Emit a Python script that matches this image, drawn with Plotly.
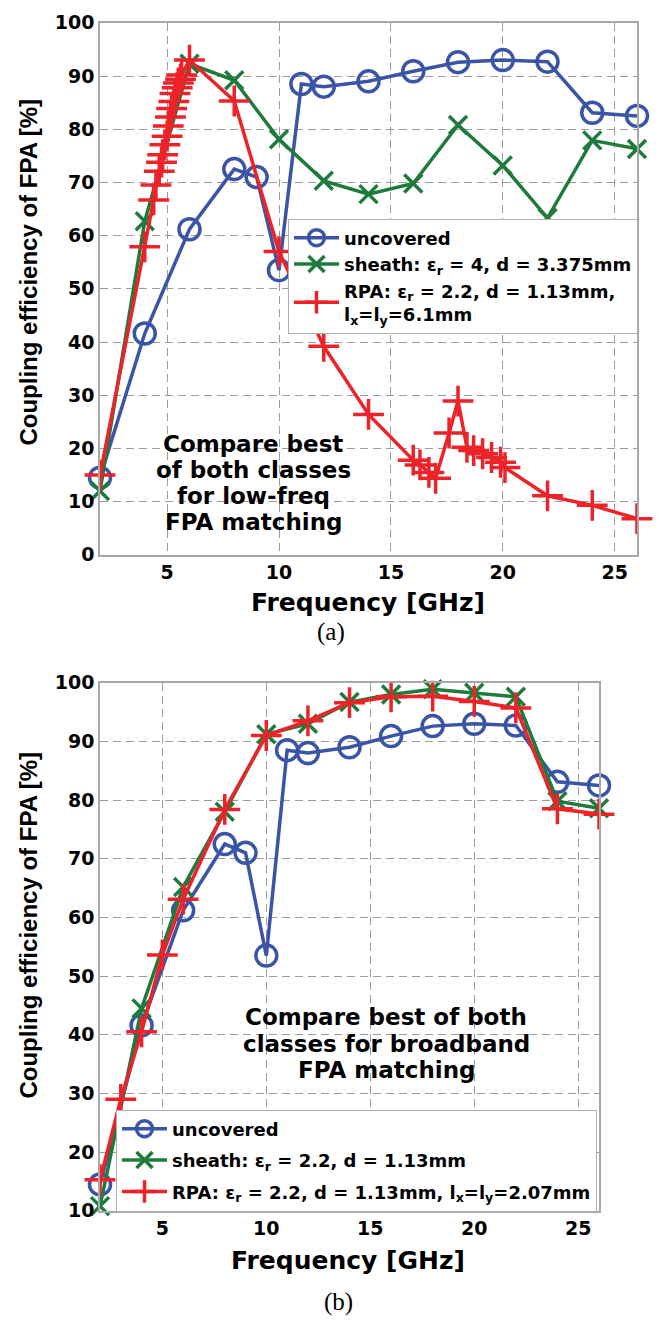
import plotly.graph_objects as go

# ---------------- data ----------------
# uncovered FPA (same in both panels)
freq_unc = [2, 4, 6, 8, 9, 10, 11, 12, 14, 16, 18, 20, 22, 24, 26]
eff_unc = [14.5, 41.6, 61.2, 72.5, 71.0, 53.5, 88.5, 88.0, 89.0, 90.9, 92.6, 93.0, 92.7, 83.1, 82.5]

# panel (a): sheath eps_r=4, d=3.375mm
freq_sheath_a = [2, 4, 6, 8, 10, 12, 14, 16, 18, 20, 22, 24, 26]
eff_sheath_a = [12.0, 62.7, 92.3, 89.2, 78.1, 70.3, 67.8, 69.8, 80.8, 73.2, 63.3, 77.9, 76.3]

# panel (a): RPA eps_r=2.2, d=1.13mm, lx=ly=6.1mm
freq_rpa_a = [2, 4, 4.4, 4.5, 4.65, 4.75, 4.8, 4.9, 5.0, 5.05, 5.15, 5.2, 5.3, 5.35, 5.45, 5.5, 5.6, 5.65,
              6, 8, 10, 12, 14, 16, 16.3, 16.7, 17, 17.6, 18, 18.4, 18.7, 19.1, 19.5, 19.9, 20.1, 22, 24, 26]
eff_rpa_a = [15.0, 57.9, 66.7, 69.5, 72.1, 73.8, 75.2, 77.1, 78.7, 80.6, 82.3, 83.9, 85.2, 86.7, 87.8, 88.7, 89.4, 90.2,
             93.0, 85.3, 57.0, 39.2, 26.4, 17.8, 16.9, 15.5, 14.4, 22.9, 28.9, 20.2, 19.6, 19.0, 18.3, 17.4, 16.4, 11.1, 9.3, 6.8]

# panel (b): sheath eps_r=2.2, d=1.13mm
freq_sheath_b = [2, 4, 6, 8, 10, 12, 14, 16, 18, 20, 22, 24, 26]
eff_sheath_b = [10.8, 44.5, 65.2, 78.0, 91.2, 93.0, 96.7, 98.0, 98.9, 98.3, 97.6, 79.8, 78.6]

# panel (b): RPA eps_r=2.2, d=1.13mm, lx=ly=2.07mm
freq_rpa_b = [2, 3, 4, 5, 6, 8, 10, 12, 14, 16, 18, 20, 22, 24, 26]
eff_rpa_b = [15.3, 29.0, 40.5, 53.6, 63.1, 78.4, 91.0, 93.5, 96.6, 97.6, 97.7, 96.8, 95.7, 78.5, 77.6]

names_a = ["uncovered",
           "sheath: ε<sub>r</sub> = 4, d = 3.375mm",
           "RPA: ε<sub>r</sub> = 2.2, d = 1.13mm,<br>l<sub>x</sub>=l<sub>y</sub>=6.1mm"]
names_b = ["uncovered",
           "sheath: ε<sub>r</sub> = 2.2, d = 1.13mm",
           "RPA: ε<sub>r</sub> = 2.2, d = 1.13mm, l<sub>x</sub>=l<sub>y</sub>=2.07mm"]

x_ticks = [5, 10, 15, 20, 25]
y_ticks_a = list(range(0, 101, 10))
y_ticks_b = list(range(10, 101, 10))

# ---------------- style ----------------
W, H = 659, 1329
BLUE = "#3a55a6"
GREEN = "#1e7b3c"
RED = "#ee2229"


def px(x):
    return x / W


def py(y):
    return 1 - y / H


fig = go.Figure()


def add(x, y, name, color, sym, size, xa, ya, leg, grp):
    fig.add_trace(go.Scatter(
        x=x, y=y, mode="lines+markers", name=name, legendgroup=grp,
        line=dict(color=color, width=3.5),
        marker=dict(symbol=sym, size=size, color=color, line=dict(color=color, width=3.5)),
        xaxis=xa, yaxis=ya, legend=leg, cliponaxis=False))


add(freq_unc, eff_unc, names_a[0], BLUE, "circle-open", 21, "x", "y", "legend", "a1")
add(freq_sheath_a, eff_sheath_a, names_a[1], GREEN, "x-thin", 18, "x", "y", "legend", "a2")
add(freq_rpa_a, eff_rpa_a, names_a[2], RED, "cross-thin", 22, "x", "y", "legend", "a3")

add(freq_unc, eff_unc, names_b[0], BLUE, "circle-open", 21, "x2", "y2", "legend2", "b1")
add(freq_sheath_b, eff_sheath_b, names_b[1], GREEN, "x-thin", 18, "x2", "y2", "legend2", "b2")
add(freq_rpa_b, eff_rpa_b, names_b[2], RED, "cross-thin", 22, "x2", "y2", "legend2", "b3")

tickfont = dict(family="DejaVu Sans", size=19, color="black", weight="bold")
axis_common = dict(showline=True, linecolor="#a8a8a8", linewidth=1.5, mirror=True,
                   showgrid=True, gridcolor="#9c9c9c", gridwidth=1, griddash="8px,5px",
                   zeroline=False, ticks="", tickfont=tickfont)

legfont = dict(family="DejaVu Sans", size=18, color="black", weight="bold")

fig.update_layout(
    width=W, height=H,
    margin=dict(l=0, r=0, t=0, b=0),
    paper_bgcolor="white", plot_bgcolor="white",
    xaxis=dict(domain=[px(100), px(637)], anchor="y", range=[2, 26], tickvals=x_ticks, **axis_common),
    yaxis=dict(domain=[py(553), py(12)], anchor="x", range=[0, 100], tickvals=y_ticks_a, **axis_common),
    xaxis2=dict(domain=[px(100), px(599)], anchor="y2", range=[2, 26], tickvals=x_ticks, **axis_common),
    yaxis2=dict(domain=[py(1220), py(683)], anchor="x2", range=[10, 100], tickvals=y_ticks_b, **axis_common),
    legend=dict(x=px(288), y=py(211), xanchor="left", yanchor="top", bgcolor="white",
                bordercolor="#b0b0b0", borderwidth=1, font=legfont, itemwidth=45,
                tracegroupgap=0),
    legend2=dict(x=px(116), y=py(1117), xanchor="left", yanchor="top", bgcolor="white",
                 bordercolor="#b0b0b0", borderwidth=1, font=legfont, itemwidth=45,
                 tracegroupgap=5),
)

ann_font = dict(family="DejaVu Sans", size=23, color="black", weight="bold")
title_font = dict(family="DejaVu Sans", size=25, color="black", weight="bold")
ylab_font = dict(family="Liberation Sans", size=24, color="black", weight="bold")
cap_font = dict(family="Liberation Serif", size=25, color="black")

anns = []


def note(x, y, text, font, angle=0):
    anns.append(dict(x=px(x), y=py(y), xref="paper", yref="paper", text=text, showarrow=False,
                     font=font, textangle=angle, xanchor="center", yanchor="middle"))


for txt, yy in zip(["Compare best", "of both classes", "for low-freq", "FPA matching"], [440, 467, 493, 520]):
    note(253, yy, txt, ann_font)
for txt, yy in zip(["Compare best of both", "classes for broadband", "FPA matching"], [1023, 1050, 1077]):
    note(386, yy, txt, ann_font)

note(368, 601, "Frequency [GHz]", title_font)
note(348, 1271, "Frequency [GHz]", title_font)
note(29, 266, "Coupling efficiency of FPA [%]", ylab_font, -90)
note(29, 930, "Coupling efficiency of FPA [%]", ylab_font, -90)
note(331, 631, "(a)", cap_font)
note(338, 1313, "(b)", cap_font)

fig.update_layout(annotations=anns)
fig.write_html("out.html")
